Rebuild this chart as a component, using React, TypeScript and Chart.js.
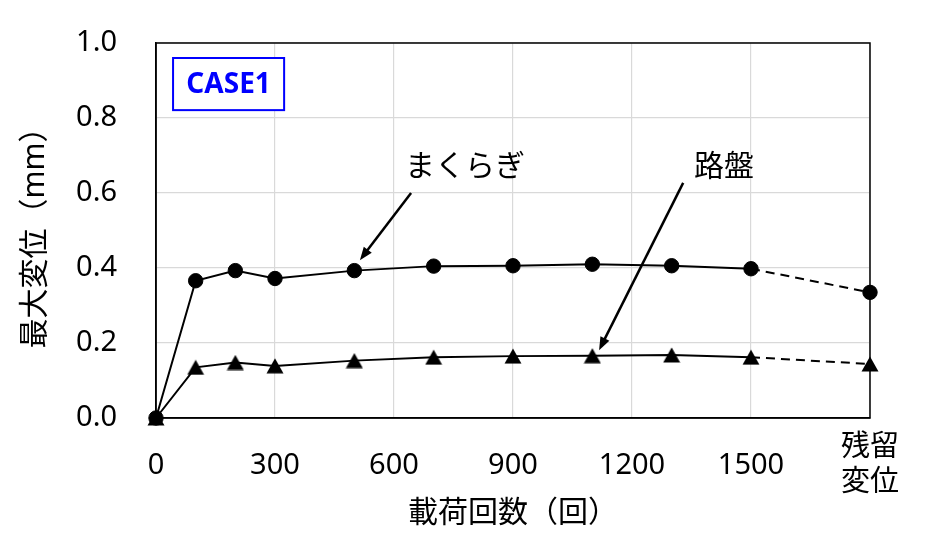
import React, { useEffect, useRef } from "react";
import { Chart, registerables } from "chart.js";

Chart.register(...registerables);

const cycles = [0, 100, 200, 300, 500, 700, 900, 1100, 1300, 1500, 1800];
const sleeper = [0, 0.366, 0.393, 0.372, 0.393, 0.405, 0.406, 0.41, 0.406, 0.398, 0.335];
const roadbed = [0, 0.135, 0.148, 0.139, 0.153, 0.162, 0.165, 0.166, 0.168, 0.162, 0.144];
const xTickValues = [0, 300, 600, 900, 1200, 1500, 1800];
const residualLabel = ["残留", "変位"];
const yTitle = "最大変位（mm）";
const xTitle = "載荷回数（回）";
const sleeperLabel = "まくらぎ";
const roadbedLabel = "路盤";
const caseLabel = "CASE1";

const FONT = '"Noto Sans", "Noto Sans CJK JP", sans-serif';

function makeTriangle(): HTMLCanvasElement {
  const c = document.createElement("canvas");
  c.width = 18;
  c.height = 16;
  const ctx = c.getContext("2d")!;
  ctx.fillStyle = "#000";
  ctx.beginPath();
  ctx.moveTo(9, 0.5);
  ctx.lineTo(17.5, 15.5);
  ctx.lineTo(0.5, 15.5);
  ctx.closePath();
  ctx.fill();
  return c;
}

function drawArrow(ctx: CanvasRenderingContext2D, x1: number, y1: number, x2: number, y2: number) {
  const ang = Math.atan2(y2 - y1, x2 - x1);
  const hl = 13;
  const hw = 5;
  ctx.save();
  ctx.strokeStyle = "#000";
  ctx.fillStyle = "#000";
  ctx.lineWidth = 2.5;
  ctx.beginPath();
  ctx.moveTo(x1, y1);
  ctx.lineTo(x2 - Math.cos(ang) * hl * 0.8, y2 - Math.sin(ang) * hl * 0.8);
  ctx.stroke();
  ctx.beginPath();
  ctx.moveTo(x2, y2);
  ctx.lineTo(x2 - Math.cos(ang) * hl + Math.sin(ang) * hw, y2 - Math.sin(ang) * hl - Math.cos(ang) * hw);
  ctx.lineTo(x2 - Math.cos(ang) * hl - Math.sin(ang) * hw, y2 - Math.sin(ang) * hl + Math.cos(ang) * hw);
  ctx.closePath();
  ctx.fill();
  ctx.restore();
}

const annotPlugin = {
  id: "annot",
  beforeDatasetsDraw(chart: any) {
    const { ctx, chartArea } = chart;
    ctx.save();
    ctx.strokeStyle = "#000";
    ctx.lineWidth = 1.5;
    ctx.strokeRect(chartArea.left, chartArea.top, chartArea.right - chartArea.left, chartArea.bottom - chartArea.top);
    ctx.restore();
  },
  afterDatasetsDraw(chart: any) {
    const { ctx } = chart;
    const xs = chart.scales.x;
    const ys = chart.scales.y;
    const px = (v: number) => xs.getPixelForValue(v);
    const py = (v: number) => ys.getPixelForValue(v);

    ctx.save();
    ctx.fillStyle = "#000";
    ctx.font = `30px ${FONT}`;
    ctx.textAlign = "center";
    ctx.textBaseline = "middle";
    ctx.fillText(sleeperLabel, px(779), py(0.669));
    ctx.fillText(roadbedLabel, px(1432), py(0.669));
    ctx.restore();

    drawArrow(ctx, px(643), py(0.6), px(514), py(0.421));
    drawArrow(ctx, px(1329), py(0.627), px(1117), py(0.181));

    // CASE1 box
    const bx1 = px(43), by1 = py(0.96), bx2 = px(323), by2 = py(0.821);
    ctx.save();
    ctx.fillStyle = "#fff";
    ctx.fillRect(bx1, by1, bx2 - bx1, by2 - by1);
    ctx.strokeStyle = "#0000FF";
    ctx.lineWidth = 2;
    ctx.strokeRect(bx1, by1, bx2 - bx1, by2 - by1);
    ctx.fillStyle = "#0000FF";
    ctx.font = `bold 28px ${FONT}`;
    ctx.textAlign = "center";
    ctx.textBaseline = "middle";
    ctx.fillText(caseLabel, (bx1 + bx2) / 2, (by1 + by2) / 2 + 1);
    ctx.restore();
  },
};

export default function App() {
  const ref = useRef<HTMLCanvasElement | null>(null);
  useEffect(() => {
    document.body.style.margin = "0";
    const canvas = ref.current!;
    const tri = makeTriangle();
    const last = cycles.length - 1;
    const dashSeg = (c: any) => (c.p1DataIndex === last ? [9, 6] : undefined);
    const chart = new Chart(canvas, {
      type: "line",
      data: {
        datasets: [
          {
            label: sleeperLabel,
            data: cycles.map((x, i) => ({ x, y: sleeper[i] })),
            borderColor: "#000",
            borderWidth: 2,
            pointStyle: "circle",
            pointRadius: 7.2,
            pointBorderWidth: 1,
            pointBackgroundColor: "#000",
            pointBorderColor: "#000",
            tension: 0,
            clip: false as any,
            segment: { borderDash: dashSeg },
          },
          {
            label: roadbedLabel,
            data: cycles.map((x, i) => ({ x, y: roadbed[i] })),
            borderColor: "#000",
            borderWidth: 2,
            pointStyle: tri as any,
            pointRadius: 9,
            pointBackgroundColor: "#000",
            pointBorderColor: "#000",
            tension: 0,
            clip: false as any,
            segment: { borderDash: dashSeg },
          },
        ],
      },
      options: {
        responsive: false,
        animation: false,
        layout: { padding: { top: 43, right: 73, left: 0, bottom: 0 } },
        plugins: { legend: { display: false }, tooltip: { enabled: false } },
        scales: {
          x: {
            type: "linear",
            min: 0,
            max: 1800,
            afterBuildTicks: (s: any) => {
              s.ticks = xTickValues.map((v) => ({ value: v }));
            },
            afterFit: (s: any) => {
              s.height = 127;
            },
            grid: { color: "#d9d9d9", lineWidth: 1.2, drawTicks: false },
            border: { display: true, color: "#000", width: 1.5 },
            ticks: {
              color: "#000",
              font: { family: FONT, size: 29 },
              padding: 30,
              maxRotation: 0,
              autoSkip: false,
              crossAlign: "center" as any,
              callback: (v: any) => (v === 1800 ? residualLabel : String(v)),
            },
            title: {
              display: true,
              text: xTitle,
              color: "#000",
              font: { family: FONT, size: 30 },
              padding: { top: 0, bottom: 14 },
            },
          },
          y: {
            min: 0,
            max: 1,
            afterFit: (s: any) => {
              s.width = 156;
              s.paddingTop = 0;
              s.paddingBottom = 0;
            },
            grid: { color: "#d9d9d9", lineWidth: 1.2, drawTicks: false },
            border: { display: true, color: "#000", width: 1.5 },
            ticks: {
              stepSize: 0.2,
              color: "#000",
              font: { family: FONT, size: 29 },
              padding: 39,
              callback: (v: any) => Number(v).toFixed(1),
            },
            title: {
              display: true,
              text: yTitle,
              color: "#000",
              font: { family: FONT, size: 30 },
              padding: { top: 17, bottom: 0 },
            },
          },
        },
      },
      plugins: [annotPlugin],
    });
    return () => chart.destroy();
  }, []);
  return (
    <div style={{ width: 943, height: 545 }}>
      <canvas ref={ref} width={943} height={545} style={{ display: "block" }} />
    </div>
  );
}
